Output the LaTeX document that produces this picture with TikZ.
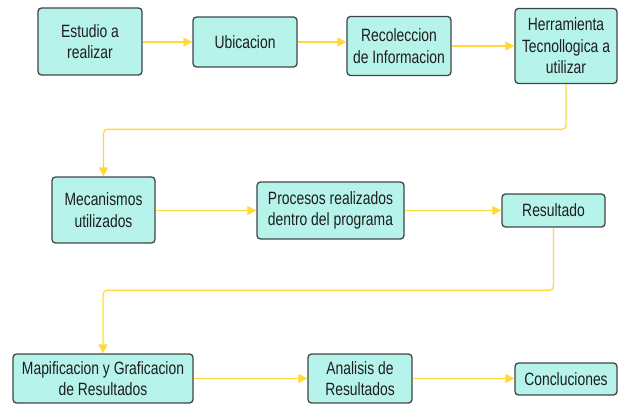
\documentclass[tikz,border=0pt]{standalone}
\usepackage{fontspec}
\setmainfont{Liberation Sans}[FakeStretch=0.78]
\usetikzlibrary{arrows.meta,calc}
\definecolor{boxfill}{HTML}{B6F3EA}
\definecolor{boxline}{HTML}{3E4646}
\definecolor{arrowc}{HTML}{FFD83A}
\definecolor{txt}{HTML}{1E1E1E}
\tikzset{
  stepbox/.style={draw=boxline, fill=boxfill, line width=1.3pt, rounded corners=3.5pt,
    align=center, inner sep=0pt, text=txt,
    font=\fontsize{17.8}{21.5}\selectfont},
  conn/.style={draw=arrowc, line width=1.3pt, rounded corners=4pt,
    -{Triangle[length=9pt,width=9pt]}}
}
\begin{document}
\begin{tikzpicture}[x=1pt,y=-1pt]
\useasboundingbox (0,0) rectangle (618,404);
\node[stepbox, minimum width=104pt, minimum height=67pt] (e) at (90,41.5) {Estudio a\\realizar};
\node[stepbox, minimum width=104pt, minimum height=50pt] (u) at (245,42) {Ubicacion};
\node[stepbox, minimum width=104pt, minimum height=59pt] (rc) at (399,46) {Recoleccion\\de Informacion};
\node[stepbox, minimum width=102pt, minimum height=75pt] (h) at (566,46) {Herramienta\\Tecnollogica a\\utilizar};
\node[stepbox, minimum width=103pt, minimum height=66pt] (m) at (103.5,210) {Mecanismos\\utilizados};
\node[stepbox, minimum width=147pt, minimum height=57pt] (p) at (330.5,210.5) {Procesos realizados\\dentro del programa};
\node[stepbox, minimum width=103pt, minimum height=33pt] (r) at (553.5,210.5) {Resultado};
\node[stepbox, minimum width=180pt, minimum height=49pt] (g) at (103,378.5) {Mapificacion y Graficacion\\de Resultados};
\node[stepbox, minimum width=104pt, minimum height=49pt] (a) at (360,378.5) {Analisis de\\Resultados};
\node[stepbox, minimum width=102pt, minimum height=32pt] (c) at (566,379) {Concluciones};
\draw[conn] (e.east |- u.west) -- (u.west);
\draw[conn] (u.east) -- (u.east -| rc.west);
\draw[conn] (rc.east) -- (h.west);
\draw[conn] (h.south) |- ([yshift=47pt]m.north) -- (m.north);
\draw[conn] (m.east |- p.west) -- (p.west);
\draw[conn] (p.east) -- (r.west);
\draw[conn] (r.south) |- ([yshift=63pt]g.north) -- (g.north);
\draw[conn] (g.east) -- (a.west);
\draw[conn] (a.east) -- (c.west |- a.east);
\end{tikzpicture}
\end{document}
